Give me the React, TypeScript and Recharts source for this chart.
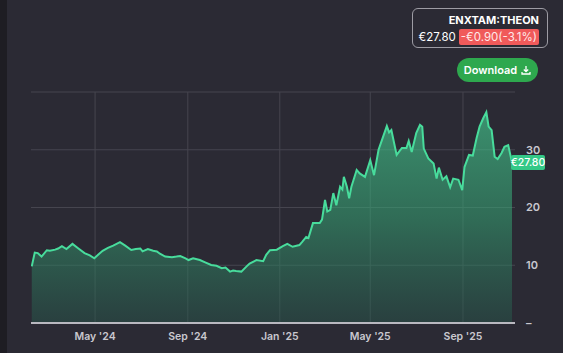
import React from 'react';
import {
  AreaChart,
  Area,
  XAxis,
  YAxis,
  CartesianGrid,
  ReferenceLine,
} from 'recharts';

const dates = [
  '2024-02-07', '2024-02-11', '2024-02-15', '2024-02-20', '2024-02-27', '2024-03-02', '2024-03-09', '2024-03-13',
  '2024-03-18', '2024-03-24', '2024-04-01', '2024-04-08', '2024-04-17', '2024-04-24', '2024-04-30', '2024-05-05',
  '2024-05-11', '2024-05-18', '2024-05-25', '2024-06-03', '2024-06-10', '2024-06-18', '2024-06-24', '2024-06-30',
  '2024-07-03', '2024-07-10', '2024-07-17', '2024-07-22', '2024-07-26', '2024-08-02', '2024-08-11', '2024-08-17',
  '2024-08-22', '2024-08-29', '2024-09-02', '2024-09-08', '2024-09-17', '2024-09-24', '2024-10-02', '2024-10-09',
  '2024-10-16', '2024-10-21', '2024-10-27', '2024-10-31', '2024-11-04', '2024-11-11', '2024-11-18', '2024-11-22',
  '2024-12-01', '2024-12-10', '2024-12-14', '2024-12-19', '2024-12-28', '2025-01-05', '2025-01-11', '2025-01-18',
  '2025-01-27', '2025-01-31', '2025-02-05', '2025-02-08', '2025-02-14', '2025-02-23', '2025-02-26', '2025-03-02',
  '2025-03-05', '2025-03-09', '2025-03-13', '2025-03-17', '2025-03-22', '2025-03-25', '2025-03-27', '2025-03-31',
  '2025-04-03', '2025-04-06', '2025-04-13', '2025-04-17', '2025-04-24', '2025-05-01', '2025-05-06', '2025-05-12',
  '2025-05-16', '2025-05-23', '2025-05-26', '2025-05-29', '2025-06-05', '2025-06-12', '2025-06-18', '2025-06-21',
  '2025-06-25', '2025-07-01', '2025-07-06', '2025-07-09', '2025-07-11', '2025-07-17', '2025-07-24', '2025-07-28',
  '2025-07-31', '2025-08-05', '2025-08-10', '2025-08-15', '2025-08-19', '2025-08-26', '2025-08-31', '2025-09-03',
  '2025-09-09', '2025-09-14', '2025-09-19', '2025-09-23', '2025-09-28', '2025-10-02', '2025-10-05', '2025-10-09',
  '2025-10-13', '2025-10-17', '2025-10-22', '2025-10-26', '2025-10-31', '2025-11-05',
];

const prices = [
  9.8, 12.2, 12.1, 11.5, 12.6, 12.5, 12.7, 12.9,
  13.3, 12.8, 13.7, 13.0, 12.1, 11.7, 11.2, 11.8,
  12.5, 13.0, 13.4, 14.0, 13.4, 12.65, 12.8, 12.9,
  12.4, 12.8, 12.5, 12.4, 12.0, 11.5, 11.4, 11.5,
  11.6, 11.2, 10.9, 11.2, 10.9, 10.5, 10.05, 9.9,
  9.5, 9.6, 8.9, 9.1, 9.0, 8.9, 9.8, 10.3,
  10.9, 10.7, 11.8, 12.6, 12.7, 13.3, 13.7, 13.2,
  13.5, 14.1, 14.9, 14.7, 17.3, 17.3, 17.9, 21.3,
  19.3, 19.6, 22.5, 20.4, 23.6, 23.1, 25.3, 23.6,
  21.6, 23.6, 26.5, 25.9, 25.3, 28.2, 25.6, 30.0,
  31.5, 34.1, 33.0, 33.4, 29.1, 30.3, 30.3, 31.5,
  29.6, 32.9, 34.3, 34.0, 30.2, 28.5, 27.6, 25.0,
  26.9, 24.8, 25.4, 23.5, 25.0, 24.8, 23.0, 27.0,
  29.1, 29.0, 32.0, 34.0, 35.5, 36.5, 34.0, 33.4,
  28.8, 28.4, 29.4, 30.5, 30.8, 27.8,
];

const tickDates = ['2024-05-01', '2024-09-01', '2025-01-01', '2025-05-01', '2025-09-01'];
const tickLabels = ["May '24", "Sep '24", "Jan '25", "May '25", "Sep '25"];
const yTicks = [0, 10, 20, 30, 40];

const toTime = (d: string) => new Date(d + 'T00:00:00Z').getTime();

const data = dates.map((d, i) => ({ t: toTime(d), price: prices[i] }));
const xTicks = tickDates.map(toTime);
const lastPrice = prices[prices.length - 1];
const xDomain = [toTime('2024-02-06'), toTime('2025-11-09')];

const PriceTag = (props: any) => {
  const vb = props.viewBox || {};
  const x = (vb.x ?? 0) + (vb.width ?? 0) - 4;
  const y = vb.y ?? 0;
  return (
    <g>
      <rect x={x} y={y - 7.5} width={34} height={15} rx={2} fill="#34c987" />
      <text
        x={x + 17}
        y={y}
        textAnchor="middle"
        dominantBaseline="central"
        fill="#ffffff"
        fontSize={10.5}
        fontWeight={500}
      >
        €{lastPrice.toFixed(2)}
      </text>
    </g>
  );
};

export default function App() {
  return (
    <div
      style={{
        position: 'absolute',
        top: 0,
        left: 0,
        width: 563,
        height: 353,
        background: '#2b2a34',
        fontFamily: 'Inter, "Noto Sans", sans-serif',
        overflow: 'hidden',
      }}
    >
      <div style={{ position: 'absolute', left: 0, top: 0, width: 7, height: 353, background: '#1e1d23' }} />

      <div
        style={{
          position: 'absolute',
          left: 412,
          top: 8,
          width: 136,
          height: 40,
          border: '1px solid #9d9ca4',
          borderRadius: 6,
          boxSizing: 'border-box',
          color: '#ffffff',
        }}
      >
        <div style={{ position: 'absolute', right: 8, top: 4, fontSize: 11, fontWeight: 700 }}>ENXTAM:THEON</div>
        <div style={{ position: 'absolute', right: 8, top: 20, display: 'flex', alignItems: 'center', gap: 3 }}>
          <span style={{ fontSize: 11.5 }}>€27.80</span>
          <span
            style={{
              fontSize: 11.5,
              background: '#f05a5a',
              color: '#ffe9e9',
              padding: '1px 2px',
              borderRadius: 2,
            }}
          >
            -€0.90(-3.1%)
          </span>
        </div>
      </div>

      <div
        style={{
          position: 'absolute',
          left: 457,
          top: 58,
          width: 81,
          height: 24,
          borderRadius: 12,
          background: '#2ea84e',
          color: '#ffffff',
          fontSize: 11,
          fontWeight: 600,
          display: 'flex',
          alignItems: 'center',
          justifyContent: 'center',
          gap: 4,
        }}
      >
        <span>Download</span>
        <svg width="10" height="10" viewBox="0 0 10 10">
          <path d="M5 1 V6.5 M2.8 4.5 L5 6.7 L7.2 4.5 M1 7 V9 H9 V7" stroke="#fff" strokeWidth="1.3" fill="none" />
        </svg>
      </div>

      <div style={{ position: 'absolute', left: 0, top: 0 }}>
        <AreaChart
          width={563}
          height={353}
          data={data}
          margin={{ top: 92, right: 0, left: 31, bottom: 0 }}
        >
          <defs>
            <linearGradient id="priceFill" x1="0" y1="0" x2="0" y2="1">
              <stop offset="0%" stopColor="#46d696" stopOpacity={1} />
              <stop offset="50%" stopColor="#35a574" stopOpacity={0.9} />
              <stop offset="100%" stopColor="#27574b" stopOpacity={0.8} />
            </linearGradient>
          </defs>
          <CartesianGrid
            stroke="#46454f"
            strokeWidth={1}
            verticalCoordinatesGenerator={({ offset }: any) =>
              xTicks.map(
                (t) => offset.left + ((t - xDomain[0]) / (xDomain[1] - xDomain[0])) * offset.width
              )
            }
          />
          <XAxis
            dataKey="t"
            type="number"
            domain={xDomain}
            ticks={xTicks}
            tickFormatter={(v: number) => tickLabels[xTicks.indexOf(v)] ?? ''}
            tickLine={false}
            axisLine={{ stroke: '#b9b8c0', strokeWidth: 2 }}
            tick={{ fill: '#c9c8cf', fontSize: 10.5, fontWeight: 600 }}
            tickMargin={4}
            height={30}
            allowDataOverflow
          />
          <YAxis
            orientation="right"
            domain={[0, 40]}
            ticks={yTicks}
            tickFormatter={(v: number) => (v === 0 ? '–' : v === 40 ? '' : String(v))}
            tickLine={false}
            axisLine={false}
            tick={{ fill: '#c9c8cf', fontSize: 11, fontWeight: 600 }}
            tickSize={0}
            tickMargin={11}
            width={48}
          />
          <Area
            type="linear"
            dataKey="price"
            stroke="#48dc9c"
            strokeWidth={2}
            fill="url(#priceFill)"
            isAnimationActive={false}
            dot={false}
            activeDot={false}
          />
          <ReferenceLine y={lastPrice} stroke="none" label={(p: any) => <PriceTag {...p} />} />
        </AreaChart>
      </div>
    </div>
  );
}
